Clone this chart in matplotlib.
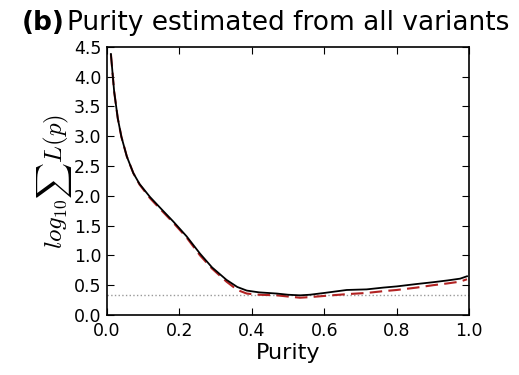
import matplotlib
matplotlib.use('Agg')
import matplotlib.pyplot as plt

plt.rcParams['mathtext.fontset'] = 'cm'

# purity grid and log10 sum of likelihood
purity = [0.011, 0.02, 0.03, 0.04, 0.055, 0.073, 0.09, 0.119, 0.15, 0.183, 0.22,
          0.257, 0.29, 0.33, 0.36, 0.386, 0.42, 0.469, 0.50, 0.533, 0.56, 0.60,
          0.662, 0.717, 0.763, 0.80, 0.855, 0.90, 0.94, 0.975, 0.994]
all_variants = [4.38, 3.75, 3.30, 2.99, 2.66, 2.38, 2.20, 1.98, 1.78, 1.57, 1.32,
                1.03, 0.80, 0.59, 0.47, 0.41, 0.38, 0.36, 0.34, 0.33, 0.34, 0.37,
                0.42, 0.43, 0.46, 0.48, 0.52, 0.55, 0.58, 0.61, 0.65]
subset = [4.38, 3.75, 3.30, 2.99, 2.66, 2.38, 2.19, 1.96, 1.76, 1.55, 1.30,
          1.00, 0.78, 0.56, 0.42, 0.36, 0.34, 0.33, 0.31, 0.29, 0.30, 0.32,
          0.35, 0.37, 0.40, 0.42, 0.46, 0.50, 0.53, 0.56, 0.60]
threshold = 0.335

fig = plt.figure(figsize=(5.19, 3.75), dpi=100)
ax = fig.add_axes([0.206, 0.16, 0.698, 0.715])

ax.axhline(threshold, color='#999999', linestyle=':', linewidth=1)
ax.plot(purity, subset, color='#b22222', linestyle='--', linewidth=1.5, dashes=(6, 3))
ax.plot(purity, all_variants, color='black', linewidth=1.3)

ax.set_xlim(0, 1)
ax.set_ylim(0, 4.5)
ax.set_xticks([0.0, 0.2, 0.4, 0.6, 0.8, 1.0])
ax.set_yticks([0.0, 0.5, 1.0, 1.5, 2.0, 2.5, 3.0, 3.5, 4.0, 4.5])
ax.tick_params(direction='in', top=True, right=True, labelsize=12.5, length=5)
ax.tick_params(axis='x', pad=5)
ax.tick_params(axis='y', pad=4)
for s in ax.spines.values():
    s.set_linewidth(1.2)

ax.set_xlabel('Purity', fontsize=16, labelpad=2)
ax.set_ylabel(r'$log_{10}\sum L(p)$', fontsize=18, labelpad=0)

fig.text(0.042, 0.92, '(b)', fontsize=19, fontweight='bold')
fig.text(0.129, 0.92, 'Purity estimated from all variants', fontsize=19)

plt.savefig('out.png', dpi=100)
